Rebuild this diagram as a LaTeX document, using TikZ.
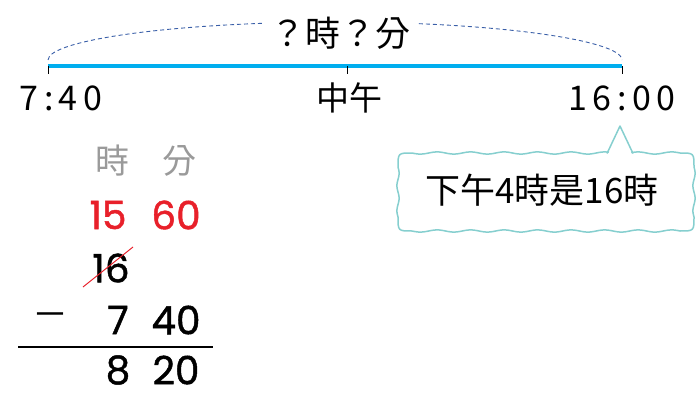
\documentclass[tikz,border=0pt]{standalone}
\usepackage{fontspec}
\setmainfont{Poppins}
\newfontfamily\numf[FakeBold=1.2]{Poppins}
\newfontfamily\cjk{Noto Sans CJK TC}
\newfontfamily\cjkw[LetterSpace=16]{Noto Sans CJK TC}
\definecolor{tlblue}{HTML}{00AEEF}
\definecolor{arcblue}{HTML}{3A5FA8}
\definecolor{redn}{HTML}{E8202A}
\definecolor{grayt}{HTML}{9A9A9A}
\definecolor{bubble}{HTML}{86CFCF}
\begin{document}
\begin{tikzpicture}[x=1pt,y=-1pt,
  tl/.style={font=\cjkw\fontsize{34}{34}\selectfont, inner sep=0pt},
  cj/.style={font=\cjk\fontsize{33}{33}\selectfont, inner sep=0pt},
  num/.style={font=\numf\fontsize{39}{39}\selectfont, inner sep=0pt},
  hdr/.style={font=\cjk\fontsize{34}{34}\selectfont, text=grayt, inner sep=0pt},
  tick/.style={line width=0.8pt, black}]
\useasboundingbox (0,0) rectangle (698,393);
% timeline
\coordinate (L) at (48,66);
\coordinate (M) at (347,66);
\coordinate (R) at (622,66);
\draw[tlblue, line width=4pt] (L) -- (R);
\draw[tick] ([yshift=-8pt]L) -- (L);
\draw[tick] ([yshift=-8pt]M) -- (M);
\draw[tick] ([yshift=-8pt]R) -- (R);
\draw[arcblue, line width=0.9pt, dash pattern=on 4pt off 3pt]
  (48,60) .. controls (48,40) and (176,22) .. (337,22)
  .. controls (494,22) and (622,40) .. (622,60);
\node[font=\cjk\fontsize{35}{35}\selectfont, inner sep=0pt, fill=white, inner xsep=8pt, inner ysep=2pt] (q) at (340,33) {？時？分};
\node[tl] (t1) at (61,98) {7:40};
\node[cj] (noon) at (349,98) {中午};
\node[tl] (t2) at (622,98) {16:00};
% bubble
\draw[bubble, line width=1.5pt, fill=white, line join=round]
  (412,153)
  -- plot[domain=412:680, samples=90] (\x, {153+1.1*sin((\x-412)/33.5*360)})
  .. controls (694,153) .. (694,167)
  -- plot[domain=167:217, samples=30] ({694+1.1*sin((\x-167)/25*360)}, \x)
  .. controls (694,231) .. (680,231)
  -- plot[domain=680:412, samples=90] (\x, {231+1.1*sin((\x-680)/33.5*360)})
  .. controls (398,231) .. (398,217)
  -- plot[domain=217:167, samples=30] ({398+1.1*sin((\x-217)/25*360)}, \x)
  .. controls (398,153) .. cycle;
\coordinate (tip) at (620,126);
\fill[white] (607,157) -- (tip) -- (633,157) -- cycle;
\draw[bubble, line width=1.5pt, line join=round] (607,153.5) -- (tip) -- (633,153.5);
\node[font=\cjk\fontsize{35}{35}\selectfont, inner sep=0pt] (b) at (542,190) {下午4時是16時};
% calculation
\node[hdr] (h1) at (112,161) {時};
\node[hdr] (h2) at (179,161) {分};
\node[num, text=redn] (r1) at (108,215) {15};
\node[num, text=redn] (r2) at (176,215) {60};
\node[num] (s) at (111,268) {16};
\coordinate (sa) at (83,287);
\coordinate (sb) at (133,247);
\draw[redn, line width=1pt] (sa) -- (sb);
\node[font=\cjk\fontsize{36}{36}\selectfont, inner sep=0pt] (minus) at (50,320) {－};
\node[num] (a1) at (118,320) {7};
\node[num] (a2) at (176,320) {40};
\coordinate (ra) at (18,347);
\coordinate (rb) at (213,347);
\draw[line width=1.3pt] (ra) -- (rb);
\node[num] (c1) at (118,370) {8};
\node[num] (c2) at (176,370) {20};
\end{tikzpicture}
\end{document}
